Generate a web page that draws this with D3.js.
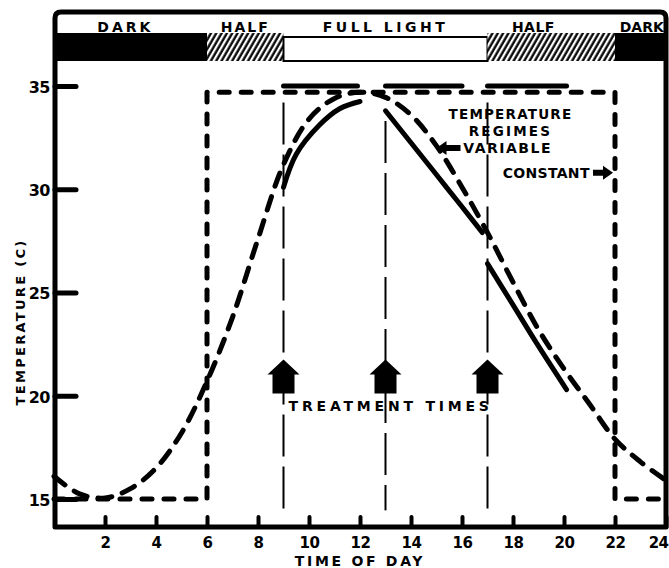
<!DOCTYPE html>
<meta charset="utf-8">
<style>
body { margin: 0; background: #fff; }
text { font-family: "DejaVu Sans", "Liberation Sans", Arial, sans-serif; font-weight: bold; fill: #000; }
</style>
<svg width="669" height="568"></svg>
<script src="https://cdn.jsdelivr.net/npm/d3@7"></script>
<script>

// hours of the day and the variable regime (dashed curve)
var hours = [0,1,2,3,4,5,6,7,8,9,10,11,12,13,14,15,16,17,18,19,20,21,22,23,24];
var variableDashed = [16.1,15.25,15.05,15.5,16.5,18.2,20.7,23.8,27.6,31.2,33.4,34.4,34.7,
                      34.45,33.6,32.1,30.1,27.9,25.5,23.2,21.3,19.6,17.9,16.8,15.9];

// solid variable curve, drawn in pieces that start at the treatment times
var solidPieceA = [[9,30.1],[9.5,31.7],[10.4,33.1],[11.2,33.9],[12.0,34.25]];
var solidPieceB = [[13,33.8],[14,32.25],[15,30.7],[16,29.15],[16.8,27.9]];
var solidPieceC = [[17,26.4],[18,24.4],[19,22.4],[20.1,20.3]];

// heavy segments along 35 C
var topSegments = [[9,11.9],[13,16],[17,20.1]];

// constant regime (dashed box)
var constTimes = [0,6,6,22,22,24];
var constTemps = [15,15,34.7,34.7,15,15];

// treatment times
var treatTimes = [9,13,17];
var treatTop = [34.2,33.3,34.2];

// light periods
var lightFrom = [0,6,9,17,22];
var lightTo = [6,9,17,22,24];
var lightKind = ["dark","half","full","half","dark"];
var lightLabels = ["DARK","HALF","FULL LIGHT","HALF","DARK"];
var lightLabelAt = [2.8,7.5,13,18.8,23.05];

var xTicks = [2,4,6,8,10,12,14,16,18,20,22,24];
var yTicks = [15,20,25,30,35];

var svg = d3.select("svg");

var x = d3.scaleLinear().domain([0,24]).range([54,666]);
var y = d3.scaleLinear().domain([15,35]).range([499,86]);

var frameTop = 12, axisY = 527;
var left = x(0) + 1, right = x(24);

// hatching pattern for half light
var pat = svg.append("defs").append("pattern")
    .attr("id","hatch")
    .attr("patternUnits","userSpaceOnUse")
    .attr("width",4.6).attr("height",4.6)
    .attr("patternTransform","rotate(30)");
pat.append("rect").attr("width",4.6).attr("height",4.6).attr("fill","#fff");
pat.append("line").attr("x1",1.5).attr("y1",0).attr("x2",1.5).attr("y2",4.6)
    .attr("stroke","#000").attr("stroke-width",2.3);

// light bar
var barTop = 33, barBottom = 61;
var labelSpacing = [3, 2, 3.5, 0.5, 0];
lightFrom.forEach(function(f, i) {
  var k = lightKind[i];
  if (k == "full") {
    svg.append("rect")
       .attr("x", x(f)).attr("y", 37)
       .attr("width", x(lightTo[i]) - x(f)).attr("height", barBottom - 37)
       .attr("fill","#fff").attr("stroke","#000").attr("stroke-width",2);
  } else {
    svg.append("rect")
       .attr("x", Math.max(x(f), left)).attr("y", barTop)
       .attr("width", x(lightTo[i]) - Math.max(x(f), left)).attr("height", barBottom - barTop)
       .attr("fill", k == "dark" ? "#000" : "url(#hatch)");
  }
  svg.append("text")
     .attr("x", x(lightLabelAt[i])).attr("y", 32)
     .attr("text-anchor","middle")
     .attr("font-size","14px")
     .attr("letter-spacing", labelSpacing[i] + "px")
     .text(lightLabels[i]);
});

// frame
svg.append("path")
   .attr("d", "M" + left + "," + axisY + "L" + left + "," + (frameTop + 6) +
              "Q" + left + "," + frameTop + " " + (left + 6) + "," + frameTop +
              "L" + (right - 6) + "," + frameTop +
              "Q" + right + "," + frameTop + " " + right + "," + (frameTop + 6) +
              "L" + right + "," + axisY + "Z")
   .attr("fill","none").attr("stroke","#000").attr("stroke-width",5)
   .attr("stroke-linejoin","round");

// axes
var xAxis = svg.append("g")
   .attr("transform","translate(0," + axisY + ")")
   .call(d3.axisBottom(x).tickValues(xTicks).tickSizeInner(-10).tickSizeOuter(0).tickPadding(10));
xAxis.select(".domain").remove();
xAxis.selectAll(".tick line").attr("stroke-width",4).attr("stroke-linecap","round");
xAxis.selectAll(".tick text")
   .attr("font-size","15px").attr("font-family","DejaVu Sans, Liberation Sans, sans-serif")
   .attr("font-weight","bold").attr("letter-spacing","-0.5px");
xAxis.selectAll(".tick").filter(function(d) { return d == 24; }).select("text")
   .attr("text-anchor","end").attr("x", 668 - x(24));

var yAxis = svg.append("g")
   .attr("transform","translate(" + left + ",0)")
   .call(d3.axisLeft(y).tickValues(yTicks).tickSizeInner(-21).tickSizeOuter(0).tickPadding(5));
yAxis.select(".domain").remove();
yAxis.selectAll(".tick line").attr("stroke-width",5).attr("stroke-linecap","round");
yAxis.selectAll(".tick text")
   .attr("font-size","16px").attr("font-family","DejaVu Sans, Liberation Sans, sans-serif")
   .attr("font-weight","bold").attr("letter-spacing","-0.5px").attr("dy","0.4em");

// axis titles
svg.append("text")
   .attr("x", (x(0) + x(24)) / 2).attr("y", 566)
   .attr("text-anchor","middle").attr("font-size","14px").attr("letter-spacing","2.7px")
   .text("TIME OF DAY");
svg.append("text")
   .attr("transform","translate(25,322) rotate(-90)")
   .attr("text-anchor","middle").attr("font-size","13px").attr("letter-spacing","2.3px")
   .text("TEMPERATURE (C)");

// treatment time lines
treatTimes.forEach(function(t, i) {
  svg.append("line")
     .attr("x1", x(t)).attr("x2", x(t))
     .attr("y1", y(treatTop[i])).attr("y2", y(14.45))
     .attr("stroke","#000").attr("stroke-width",2)
     .attr("stroke-dasharray","42,10");
});

// constant regime
var line = d3.line().x(function(d) { return x(d[0]); }).y(function(d) { return y(d[1]); });
svg.append("path")
   .datum(constTimes.map(function(t, i) { return [t, constTemps[i]]; }))
   .attr("d", line)
   .attr("fill","none").attr("stroke","#000").attr("stroke-width",5)
   .attr("stroke-linecap","round").attr("stroke-linejoin","round")
   .attr("stroke-dasharray","10,12");

// variable regime, dashed
var curve = d3.line().curve(d3.curveCatmullRom)
   .x(function(d) { return x(d[0]); }).y(function(d) { return y(d[1]); });
svg.append("path")
   .datum(hours.map(function(h, i) { return [h, variableDashed[i]]; }))
   .attr("d", curve)
   .attr("fill","none").attr("stroke","#000").attr("stroke-width",5)
   .attr("stroke-linecap","round")
   .attr("stroke-dasharray","14,11");

// variable regime, solid pieces
[solidPieceA, solidPieceB, solidPieceC].forEach(function(p) {
  svg.append("path").datum(p).attr("d", curve)
     .attr("fill","none").attr("stroke","#000").attr("stroke-width",5)
     .attr("stroke-linecap","round");
});

// heavy segments at 35
topSegments.forEach(function(s) {
  svg.append("line")
     .attr("x1", x(s[0])).attr("x2", x(s[1]))
     .attr("y1", y(35)).attr("y2", y(35))
     .attr("stroke","#000").attr("stroke-width",5).attr("stroke-linecap","round");
});

// treatment arrows
treatTimes.forEach(function(t) {
  var cx = x(t), y0 = y(21.75);
  var pts = [[cx, y0],[cx + 16, y0 + 15],[cx + 11, y0 + 15],[cx + 11, y0 + 34],
             [cx - 11, y0 + 34],[cx - 11, y0 + 15],[cx - 16, y0 + 15]];
  svg.append("polygon").attr("points", pts.join(" ")).attr("fill","#000");
});
svg.append("text")
   .attr("x", x(9.2)).attr("y", y(19.25))
   .attr("font-size","14px").attr("letter-spacing","3.8px")
   .text("TREATMENT TIMES");

// regime labels
svg.append("text").attr("x", x(17.9)).attr("y", y(33.4))
   .attr("text-anchor","middle").attr("font-size","13.5px").attr("letter-spacing","1.2px")
   .text("TEMPERATURE");
svg.append("text").attr("x", x(17.9)).attr("y", y(32.6))
   .attr("text-anchor","middle").attr("font-size","13.5px").attr("letter-spacing","2.2px")
   .text("REGIMES");
svg.append("text").attr("x", x(16.05)).attr("y", y(31.76))
   .attr("font-size","14px").attr("letter-spacing","1.5px")
   .text("VARIABLE");
svg.append("text").attr("x", x(17.6)).attr("y", y(30.55))
   .attr("font-size","14px").attr("letter-spacing","0.3px")
   .text("CONSTANT");

function arrow(tipX, tipY, dir, len) {
  var h = 10;
  var pts = [[tipX, tipY],[tipX + dir * h, tipY - 7],[tipX + dir * h, tipY - 3],
             [tipX + dir * len, tipY - 3],[tipX + dir * len, tipY + 3],
             [tipX + dir * h, tipY + 3],[tipX + dir * h, tipY + 7]];
  svg.append("polygon").attr("points", pts.join(" ")).attr("fill","#000");
}
arrow(x(15.0), y(32.0), 1, 24);
arrow(x(22) - 2, y(30.8), -1, 20);

</script>
